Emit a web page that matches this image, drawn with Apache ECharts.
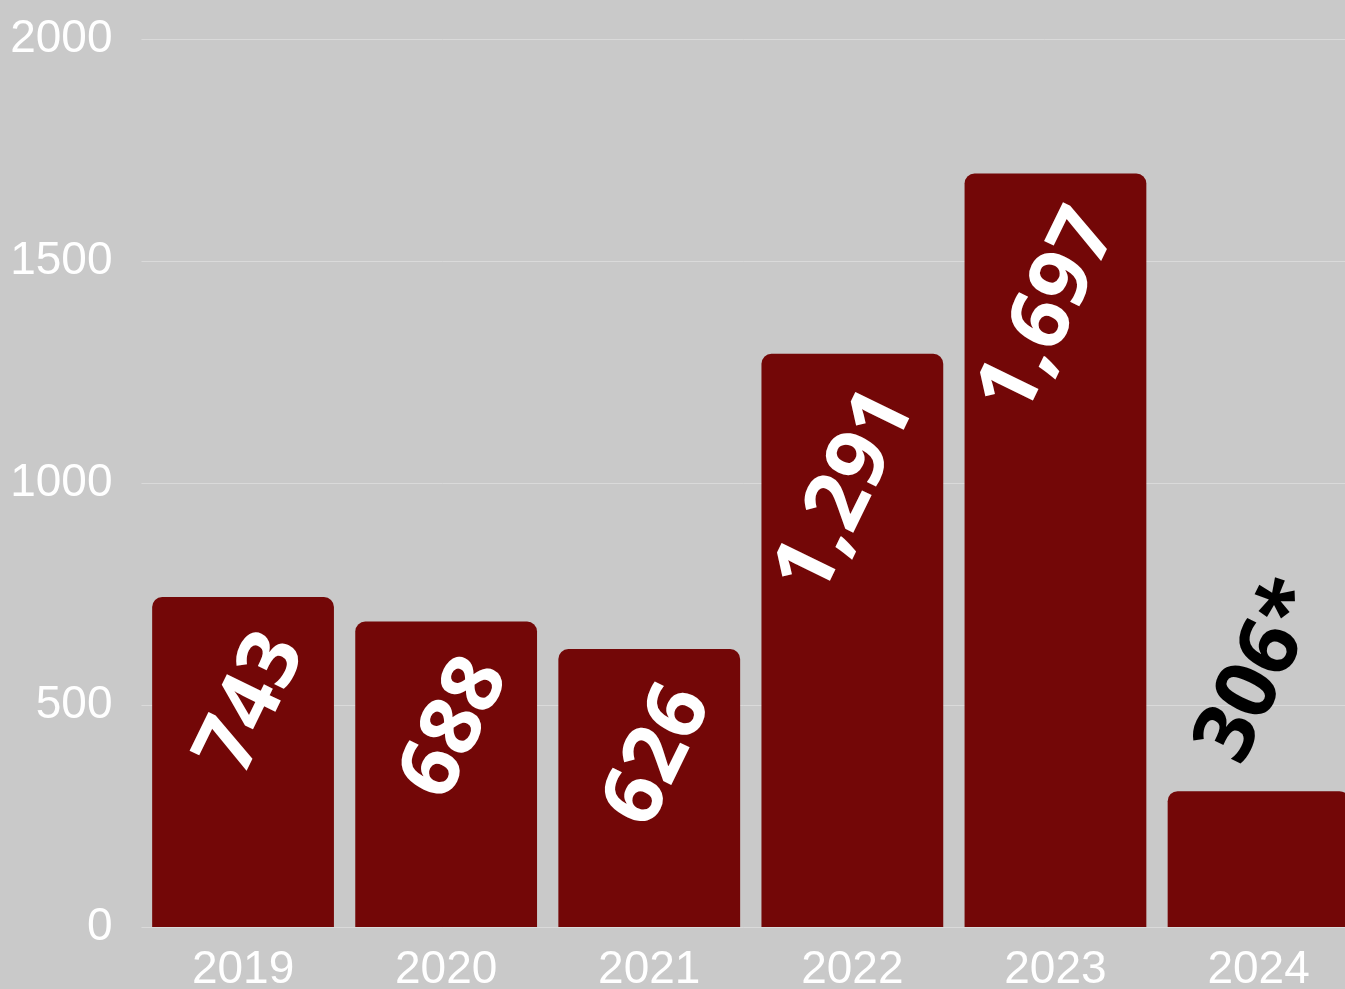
<!DOCTYPE html>
<html>
<head>
<meta charset="utf-8">
<script src="https://cdn.jsdelivr.net/npm/echarts@6/dist/echarts.min.js"></script>
<style>
    html, body { margin: 0; padding: 0; background: #c9c9c9; }
    #chart { width: 1345px; height: 989px; }
</style>
</head>
<body>
<div id="chart"></div>
<script>
var years = ['2019', '2020', '2021', '2022', '2023', '2024'];  // categories
var counts = [743, 688, 626, 1291, 1697, 306];  // bar values
var notes = ['', '', '', '', '', '*'];  // footnote marks after the value
var yTicks = [0, 500, 1000, 1500, 2000];  // y axis range

var myChart = echarts.init(document.getElementById('chart'));

// labels sit rotated at the top inside the bar, except the short last bar
var barData = counts.map(function (v, i) {
    var item = { value: v };
    if (i === counts.length - 1) {
        item.label = {
            position: [52, -34],
            align: 'left',
            color: '#000000'
        };
    }
    return item;
});

var option = {
    backgroundColor: '#c9c9c9',
    animation: false,
    grid: {
        left: 141.5,
        width: 1218.6,  // last bar runs off the right edge
        top: 39,
        bottom: 62,
        outerBoundsMode: 'none'
    },
    xAxis: {
        type: 'category',
        data: years,
        axisLine: { show: false },
        axisTick: { show: false },
        axisLabel: {
            color: '#ffffff',
            fontFamily: 'Liberation Sans, Arial, sans-serif',
            fontSize: 46,
            margin: 20,
            interval: 0
        }
    },
    yAxis: {
        type: 'value',
        min: yTicks[0],
        max: yTicks[yTicks.length - 1],
        interval: yTicks[1] - yTicks[0],
        axisLine: { show: false },
        axisTick: { show: false },
        splitLine: { lineStyle: { color: '#dadada', width: 1 } },
        axisLabel: {
            color: '#ffffff',
            fontFamily: 'Liberation Sans, Arial, sans-serif',
            fontSize: 46,
            margin: 29,
            formatter: function (v) { return String(v); }
        }
    },
    series: [
        {
            type: 'bar',
            data: barData,
            barCategoryGap: '10.5%',
            itemStyle: {
                color: '#730707',
                borderRadius: [10, 10, 0, 0]
            },
            label: {
                show: true,
                position: [132, 42],
                rotate: 64,
                align: 'right',
                verticalAlign: 'middle',
                color: '#ffffff',
                fontFamily: 'Open Sans, sans-serif',
                fontWeight: 'bold',
                fontSize: 84,
                formatter: function (p) {
                    return p.value.toLocaleString('en-US') + notes[p.dataIndex];
                }
            }
        }
    ]
};

option && myChart.setOption(option);
window.addEventListener('resize', myChart.resize);
</script>
</body>
</html>
